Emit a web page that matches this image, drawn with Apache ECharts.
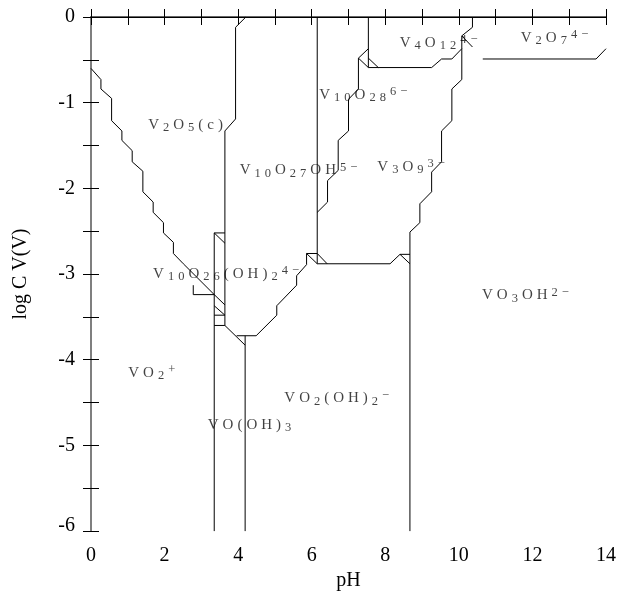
<!DOCTYPE html>
<html><head><meta charset="utf-8">
<script src="https://cdn.jsdelivr.net/npm/echarts@6/dist/echarts.min.js"></script>
<style>html,body{margin:0;padding:0;background:#fff}#c{width:630px;height:596px}</style>
</head><body><div id="c"></div>
<script>
// ---- boundary lines of the predominance diagram (pH, log C) ----
const bVO2_V2O5 = [[0,-0.60],[0.27,-0.73],[0.27,-0.84],[0.56,-0.95],[0.56,-1.21],[0.84,-1.33],[0.84,-1.44],[1.12,-1.56],[1.12,-1.69],[1.41,-1.80],[1.41,-2.04],[1.69,-2.16],[1.69,-2.28],[1.97,-2.40],[1.97,-2.52],[2.24,-2.63],[2.24,-2.76],[2.51,-2.88],[3.35,-3.24],[3.64,-3.36]];
const bV10O26box = [[2.78,-3.13],[2.78,-3.24],[3.35,-3.24]];
const bVO2_VOOH3 = [[3.35,-2.52],[3.35,-6]];
const bCellTop = [[3.64,-2.52],[3.35,-2.52],[3.64,-2.64]];
const bCellLow = [[3.35,-3.37],[3.64,-3.48],[3.35,-3.48]];
const bCellBottom = [[3.35,-3.60],[3.64,-3.60]];
const bV2O5_right = [[4.21,0],[3.93,-0.12],[3.93,-1.19],[3.64,-1.33],[3.64,-3.60],[4.19,-3.83]];
const bVOOH3_right = [[4.19,-3.72],[4.19,-6]];
const bVOOH3_top = [[3.96,-3.72],[4.49,-3.72]];
const bVO2OH2_top = [[4.49,-3.72],[5.05,-3.48],[5.05,-3.37],[5.59,-3.13],[5.59,-3.02],[5.86,-2.89],[5.86,-2.76],[6.15,-2.76]];
const bTriA = [[5.86,-2.76],[6.15,-2.88]];
const bTriB = [[6.15,-2.76],[6.42,-2.88]];
const bV3O9_bottom = [[6.15,-2.88],[8.13,-2.88],[8.40,-2.77],[8.67,-2.77]];
const bTriC = [[8.40,-2.77],[8.67,-2.88]];
const bV10O27_right = [[6.15,0],[6.15,-2.88]];
const bV10O28_V3O9 = [[6.15,-2.28],[6.43,-2.16],[6.43,-1.91],[6.72,-1.79],[6.72,-1.44],[7.00,-1.33],[7.00,-0.96],[7.27,-0.84],[7.27,-0.48],[7.54,-0.37]];
const bTriD = [[7.27,-0.48],[7.54,-0.59]];
const bV10O28_V4O12 = [[7.54,0],[7.54,-0.59]];
const bTriE = [[7.54,-0.48],[7.81,-0.59]];
const bV4O12_bottom = [[7.54,-0.59],[9.26,-0.59],[9.53,-0.49],[9.81,-0.49],[10.08,-0.37]];
const bV3O9_VO3OH = [[10.08,-0.22],[10.08,-0.73],[9.81,-0.84],[9.81,-1.21],[9.53,-1.33],[9.53,-1.69],[9.26,-1.81],[9.26,-2.04],[8.94,-2.18],[8.94,-2.40],[8.67,-2.51],[8.67,-6]];
const bV4O12_V2O7 = [[10.37,0],[10.37,-0.12],[10.08,-0.22],[10.37,-0.35]];
const bV2O7_VO3OH = [[10.65,-0.49],[13.73,-0.49],[14,-0.37]];

const boundaries = [bVO2_V2O5,bV10O26box,bVO2_VOOH3,bCellTop,bCellLow,bCellBottom,bV2O5_right,bVOOH3_right,bVOOH3_top,bVO2OH2_top,bTriA,bTriB,bV3O9_bottom,bTriC,bV10O27_right,bV10O28_V3O9,bTriD,bV10O28_V4O12,bTriE,bV4O12_bottom,bV3O9_VO3OH,bV4O12_V2O7,bV2O7_VO3OH];

// ---- species labels ----
const speciesNames = ['V_{2}O_{5}(c)','V_{10}O_{27}OH^{5−}','V_{10}O_{28}^{6−}','V_{4}O_{12}^{4−}','V_{2}O_{7}^{4−}','V_{3}O_{9}^{3−}','V_{10}O_{26}(OH)_{2}^{4−}','VO_{3}OH^{2−}','VO_{2}^{+}','VO_{2}(OH)_{2}^{−}','VO(OH)_{3}'];
const speciesPH   = [2.57, 5.64, 7.40, 9.45, 12.60, 8.70, 3.67, 11.81, 1.65, 6.68, 4.31];
const speciesLogC = [-1.26,-1.79,-0.91,-0.30,-0.24,-1.75,-3.00,-3.25,-4.15,-4.45,-4.76];

// ---- axes ----
const xMin = 0, xMax = 14, xStep = 1;
const yMin = -6, yMax = 0, yStep = 0.5;

const FONT = '"Liberation Serif","Times New Roman",serif';

function toRich(s){
  const toks=[];
  let i=0;
  while(i<s.length){
    if((s[i]==='_'||s[i]==='^') && s[i+1]==='{'){
      const t = s[i]==='_'?'b':'p';
      const j = s.indexOf('}',i);
      for(const ch of s.slice(i+2,j)) toks.push([t,ch]);
      i=j+1;
    } else { toks.push(['n',s[i]]); i++; }
  }
  return toks.map((t,k)=>'{'+t[0]+(k===toks.length-1?'l':'')+'|'+t[1]+'}').join('');
}
const GAP=4;
const richStyles = {
  n:{fontFamily:FONT,fontSize:15,color:'#111',padding:[0,GAP,0,0]},
  b:{fontFamily:FONT,fontSize:12.5,color:'#111',padding:[6,GAP,0,0]},
  p:{fontFamily:FONT,fontSize:12.5,color:'#111',padding:[0,GAP,6,0]},
  nl:{fontFamily:FONT,fontSize:15,color:'#111'},
  bl:{fontFamily:FONT,fontSize:12.5,color:'#111',padding:[6,0,0,0]},
  pl:{fontFamily:FONT,fontSize:12.5,color:'#111',padding:[0,0,6,0]}
};

const series = boundaries.map(d=>({
  type:'line', data:d, symbol:'none', silent:true, animation:false,
  lineStyle:{color:'#000',width:1}, clip:false
}));
series.push({
  type:'scatter', symbolSize:0, silent:true, animation:false,
  data: speciesNames.map((nm,i)=>({
    value:[speciesPH[i],speciesLogC[i]],
    label:{show:true,position:'inside',align:'center',verticalAlign:'middle',formatter:toRich(nm),rich:richStyles}
  }))
});

const tickStyle = {inside:true,length:8,lineStyle:{color:'#000',width:1}};
const chart = echarts.init(document.getElementById('c'),null,{renderer:'canvas'});
chart.setOption({
  animation:false,
  backgroundColor:'#fff',
  grid:{left:91,top:17,width:515,height:517,containLabel:false},
  xAxis:[
    {type:'value',min:xMin,max:xMax,interval:xStep,position:'bottom',
     axisLine:{lineStyle:{color:'#666',width:2}},axisTick:tickStyle,splitLine:{show:false},
     axisLabel:{color:'#000',fontFamily:FONT,fontSize:20,margin:15,formatter:v=>(Math.round(v)%2===0?String(Math.round(v)):'')},
     name:'pH',nameLocation:'middle',nameGap:39,nameTextStyle:{color:'#000',fontFamily:FONT,fontSize:20}},
    {type:'value',min:xMin,max:xMax,interval:xStep,position:'top',
     axisLine:{lineStyle:{color:'#000',width:1}},axisTick:tickStyle,splitLine:{show:false},axisLabel:{show:false}}
  ],
  yAxis:[
    {type:'value',min:yMin,max:yMax,interval:yStep,position:'left',
     axisLine:{lineStyle:{color:'#777',width:1.5}},axisTick:tickStyle,splitLine:{show:false},
     axisLabel:{color:'#000',fontFamily:FONT,fontSize:20,margin:16,
       formatter:v=>{ if(Math.abs(v-Math.round(v))>1e-9) return ''; const r=Math.round(v); return r===-6?'{s|-6}':String(r); },
       rich:{s:{color:'#000',fontFamily:FONT,fontSize:20,padding:[0,0,10,0]}}},
     name:'log C V(V)',nameLocation:'middle',nameGap:60,nameTextStyle:{color:'#000',fontFamily:FONT,fontSize:20}},
    {type:'value',min:yMin,max:yMax,interval:yStep,position:'right',
     axisLine:{lineStyle:{color:'#777',width:1.5}},axisTick:tickStyle,splitLine:{show:false},axisLabel:{show:false}}
  ],
  series:series
});
</script></body></html>
